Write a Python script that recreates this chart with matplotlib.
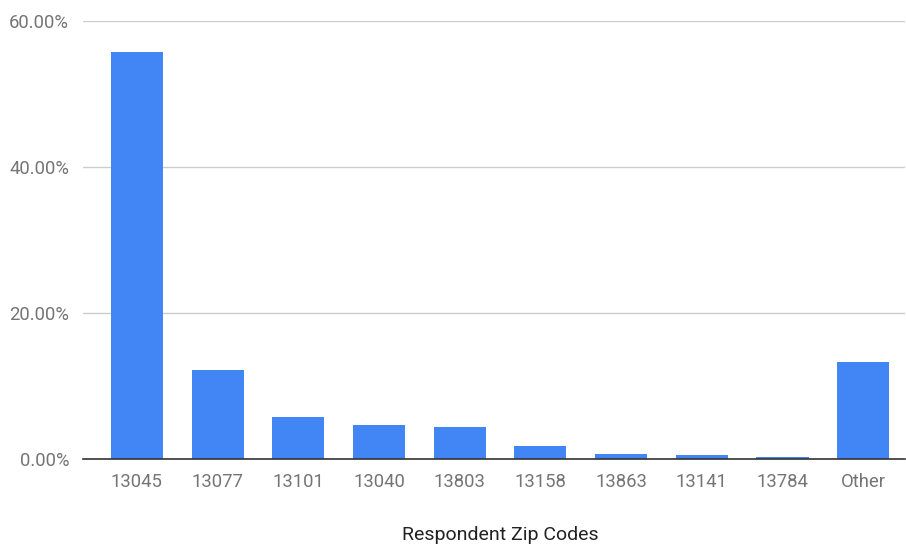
import matplotlib
matplotlib.use("Agg")
import matplotlib.pyplot as plt
from matplotlib.ticker import FuncFormatter

categories = ["13045", "13077", "13101", "13040", "13803", "13158", "13863", "13141", "13784", "Other"]
values = [55.75, 12.19, 5.75, 4.66, 4.47, 1.86, 0.73, 0.55, 0.32, 13.29]
yticks = [0, 20, 40, 60]

plt.rcParams['font.family'] = ['Roboto', 'DejaVu Sans']

fig = plt.figure(figsize=(9.06, 5.47), dpi=100)
ax = fig.add_axes([0.0916, 0.1603, 0.9075, 0.8007])

x = range(len(categories))
ax.bar(x, values, width=0.645, color="#4285f4", zorder=3)

ax.set_xlim(-0.668, len(categories) - 0.48)
ax.set_ylim(0, 60)
ax.set_yticks(yticks)
ax.yaxis.set_major_formatter(FuncFormatter(lambda v, p: f"{v:.2f}%"))
ax.set_xticks(list(x))
ax.set_xticklabels(categories)

ax.grid(axis='y', color="#cccccc", linewidth=1, zorder=0)
for s in ["top", "right", "left"]:
    ax.spines[s].set_visible(False)
ax.spines["bottom"].set_color("#333333")
ax.spines["bottom"].set_linewidth(1.2)
ax.spines["bottom"].set_zorder(4)

ax.tick_params(axis='both', length=0, labelsize=13.3, colors="#757575")
ax.tick_params(axis='x', pad=10)
ax.tick_params(axis='y', pad=10)

ax.set_xlabel("Respondent Zip Codes", fontsize=14, color="#222222", va='center')
ax.xaxis.set_label_coords(0.507, -0.173)

fig.savefig("out.png", dpi=100)
